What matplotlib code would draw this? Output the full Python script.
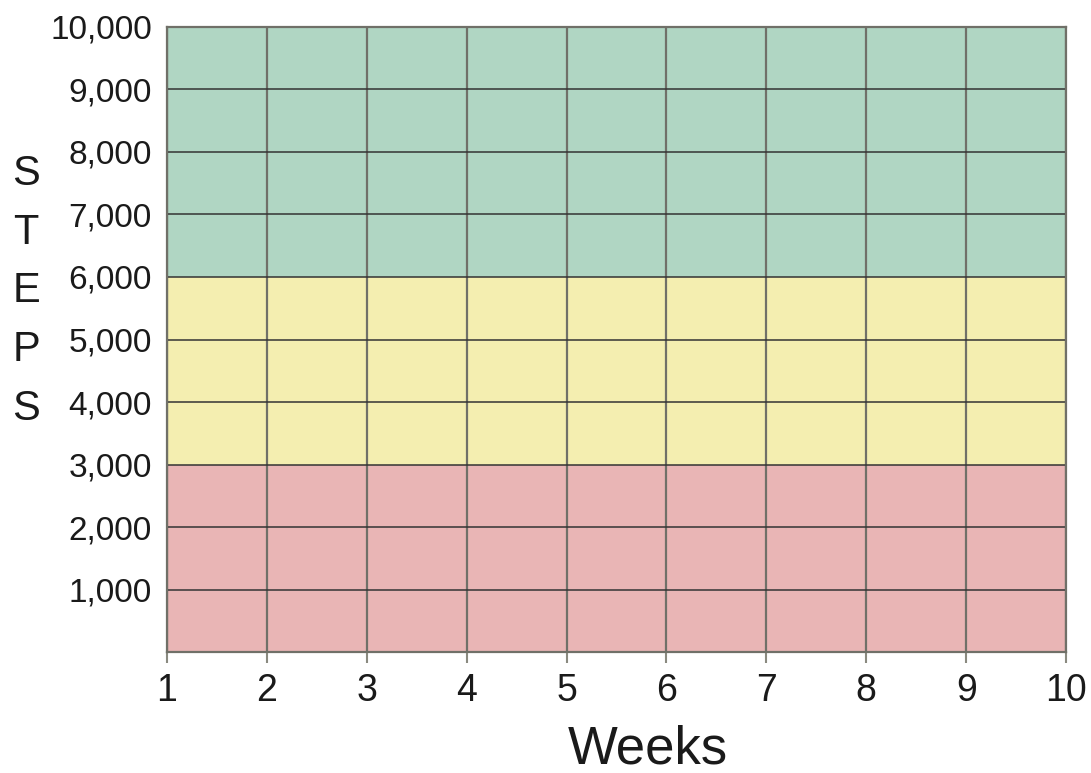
import matplotlib.pyplot as plt

# data
weeks = list(range(1, 11))
step_ticks = [1000, 2000, 3000, 4000, 5000, 6000, 7000, 8000, 9000, 10000]
step_labels = ["{:,}".format(v) for v in step_ticks]
band_edges = [0, 3000, 6000, 10000]
band_colors = ["#e9b5b5", "#f4eeb0", "#b0d6c3"]

plt.rcParams['font.family'] = ['Liberation Sans', 'DejaVu Sans']

fig = plt.figure(figsize=(10.91, 7.73), dpi=100)
ax = fig.add_axes([0.1531, 0.1565, 0.9771 - 0.1531, 0.9651 - 0.1565])

for lo, hi, c in zip(band_edges[:-1], band_edges[1:], band_colors):
    ax.axhspan(lo, hi, color=c, zorder=0, lw=0)

for w in weeks:
    ax.axvline(w, color="#707068", lw=1.6, zorder=1)
for v in step_ticks:
    ax.axhline(v, color="#333333", lw=1.1, zorder=2)

ax.set_xlim(weeks[0], weeks[-1])
ax.set_ylim(0, step_ticks[-1])
ax.set_xticks(weeks)
ax.set_yticks(step_ticks)
ax.set_yticklabels(step_labels)

ax.tick_params(axis='x', length=8, width=1.5, color="#8a8a80", pad=7,
               labelsize=27, labelcolor="#1a1a1a")
ax.tick_params(axis='y', length=0, pad=11, labelsize=24, labelcolor="#1a1a1a")

for s in ax.spines.values():
    s.set_color("#707068")
    s.set_linewidth(1.6)

fig.text(0.594, 0.03, "Weeks", fontsize=38, ha='center', va='center', color="#1a1a1a")
fig.text(0.024, 0.623, "S\nT\nE\nP\nS", fontsize=30, ha='center', va='center',
         linespacing=1.6, color="#1a1a1a")

fig.savefig("out.png", dpi=100)
